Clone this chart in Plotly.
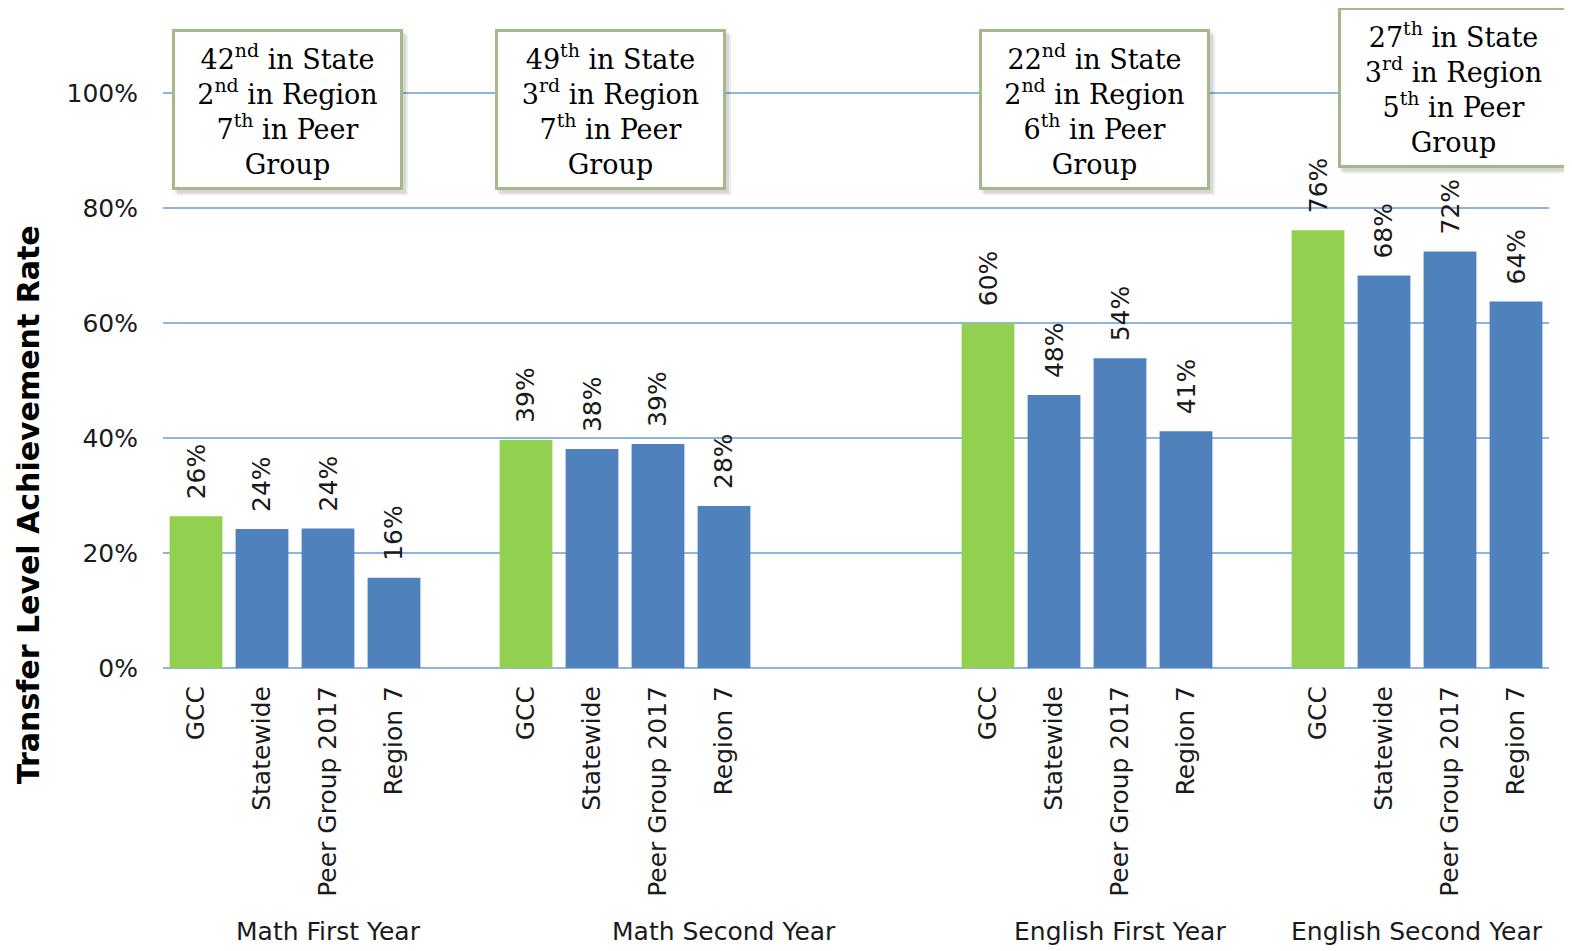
import plotly.graph_objects as go

# ---- data ----
groups = ["Math First Year", "Math Second Year", "English First Year", "English Second Year"]
categories = ["GCC", "Statewide", "Peer Group 2017", "Region 7"]
gaps_after = [1, 3, 1, 0]  # empty category slots after each group
values = [
    [0.264, 0.242, 0.243, 0.157],
    [0.397, 0.381, 0.390, 0.282],
    [0.600, 0.475, 0.539, 0.412],
    [0.762, 0.683, 0.725, 0.638],
]
value_labels = [
    ["26%", "24%", "24%", "16%"],
    ["39%", "38%", "39%", "28%"],
    ["60%", "48%", "54%", "41%"],
    ["76%", "68%", "72%", "64%"],
]
rank_texts = [
    "42<sup>nd</sup> in State<br>2<sup>nd</sup> in Region<br>7<sup>th</sup> in Peer<br>Group",
    "49<sup>th</sup> in State<br>3<sup>rd</sup> in Region<br>7<sup>th</sup> in Peer<br>Group",
    "22<sup>nd</sup> in State<br>2<sup>nd</sup> in Region<br>6<sup>th</sup> in Peer<br>Group",
    "27<sup>th</sup> in State<br>3<sup>rd</sup> in Region<br>5<sup>th</sup> in Peer<br>Group",
]
y_ticks = [0, 0.2, 0.4, 0.6, 0.8, 1.0]
y_tick_labels = ["0%", "20%", "40%", "60%", "80%", "100%"]
y_title = "Transfer Level Achievement Rate"

GREEN = "#92D050"
BLUE = "#4F81BD"
GRID = "#8DB4E2"
TEXT = "#1a1a1a"
FONT = "DejaVu Sans"
FS = 25

# ---- layout geometry (page pixels; the page body adds an 8px margin) ----
OFF = 8
W, H = 1572 - OFF, 951 - OFF
Y_MAX = 1.1
plot_l, plot_r, plot_b = 163 - OFF, 1549 - OFF, 668 - OFF
px_per_unit = 575.0
plot_t = plot_b - Y_MAX * px_per_unit
plot_h = plot_b - plot_t
plot_w = plot_r - plot_l


def pxx(x):
    return (x - OFF - plot_l) / plot_w


def pxy(y):
    return (plot_b - (y - OFF)) / plot_h


# slot positions
xs, ys, cols, ticktext, labels = [], [], [], [], []
group_centers = []
slot = 0
for g, vals in enumerate(values):
    first = slot
    for c, v in enumerate(vals):
        xs.append(slot)
        ys.append(v)
        cols.append(GREEN if c == 0 else BLUE)
        ticktext.append(categories[c])
        labels.append(value_labels[g][c])
        slot += 1
    slot += gaps_after[g]
    group_centers.append((first + slot - 1) / 2)
n_slots = slot

fig = go.Figure()
fig.add_trace(go.Bar(
    x=xs, y=ys, marker=dict(color=cols, line=dict(width=0)),
    width=0.8, hoverinfo="skip", showlegend=False,
))

annotations = []
for x, y, t in zip(xs, ys, labels):
    annotations.append(dict(
        x=x, y=y, xref="x", yref="y", text=t, textangle=-90,
        showarrow=False, yanchor="bottom", xanchor="center", yshift=15,
        font=dict(family=FONT, size=FS, color=TEXT),
    ))

for gc, name in zip(group_centers, groups):
    annotations.append(dict(
        x=gc, y=pxy(932), xref="x", yref="paper",
        text=name, showarrow=False, xanchor="center", yanchor="middle",
        font=dict(family=FONT, size=FS, color=TEXT),
    ))

# y-axis title
annotations.append(dict(
    x=pxx(28), y=pxy(505), xref="paper", yref="paper", text="<b>" + y_title + "</b>",
    textangle=-90, showarrow=False, xanchor="center", yanchor="middle",
    font=dict(family=FONT, size=30, color="#000000"),
))

# rank boxes (reference pixel centers)
box_centers = [(287.5, 109.5), (610.5, 109.5), (1094.5, 109.5), (1453, 87.5)]
box_w, box_h = 231, 161
shapes = []
for (cx, cy), txt in zip(box_centers, rank_texts):
    for off, col in [(5, "rgba(0,0,0,0.07)"), (3, "rgba(0,0,0,0.09)")]:
        shapes.append(dict(type="rect", xref="paper", yref="paper",
                           x0=pxx(cx - box_w / 2 + off), x1=pxx(cx + box_w / 2 + off),
                           y0=pxy(cy + box_h / 2 + off), y1=pxy(cy - box_h / 2 + off),
                           fillcolor=col, line=dict(width=0), layer="above"))
    annotations.append(dict(
        x=pxx(cx), y=pxy(cy), xref="paper", yref="paper", text=txt, showarrow=False,
        xanchor="center", yanchor="middle", align="center",
        width=box_w - 12, height=box_h - 12, borderpad=3, borderwidth=3,
        bordercolor="#A4B98A", bgcolor="white",
        font=dict(family="DejaVu Serif", size=27, color="#000000"),
    ))

fig.update_layout(
    width=W, height=H,
    margin=dict(l=plot_l, r=W - plot_r, t=plot_t, b=H - plot_b, pad=0, autoexpand=False),
    plot_bgcolor="white", paper_bgcolor="white",
    bargap=0.2,
    xaxis=dict(
        range=[-0.5, n_slots - 0.5], tickmode="array", tickvals=xs, ticktext=ticktext,
        tickangle=-90, showgrid=False, zeroline=False, showline=False,
        ticks="", ticklabelstandoff=12, automargin=False,
        tickfont=dict(family=FONT, size=FS, color=TEXT),
    ),
    yaxis=dict(
        range=[0, Y_MAX], tickmode="array", tickvals=y_ticks, ticktext=y_tick_labels,
        showgrid=True, gridcolor=GRID, gridwidth=2, zeroline=True, zerolinecolor=GRID,
        zerolinewidth=2, showline=False, ticks="", ticklabelstandoff=24, automargin=False,
        tickfont=dict(family=FONT, size=FS, color=TEXT),
    ),
    annotations=annotations,
    shapes=shapes,
)

fig.write_html("out.html")
